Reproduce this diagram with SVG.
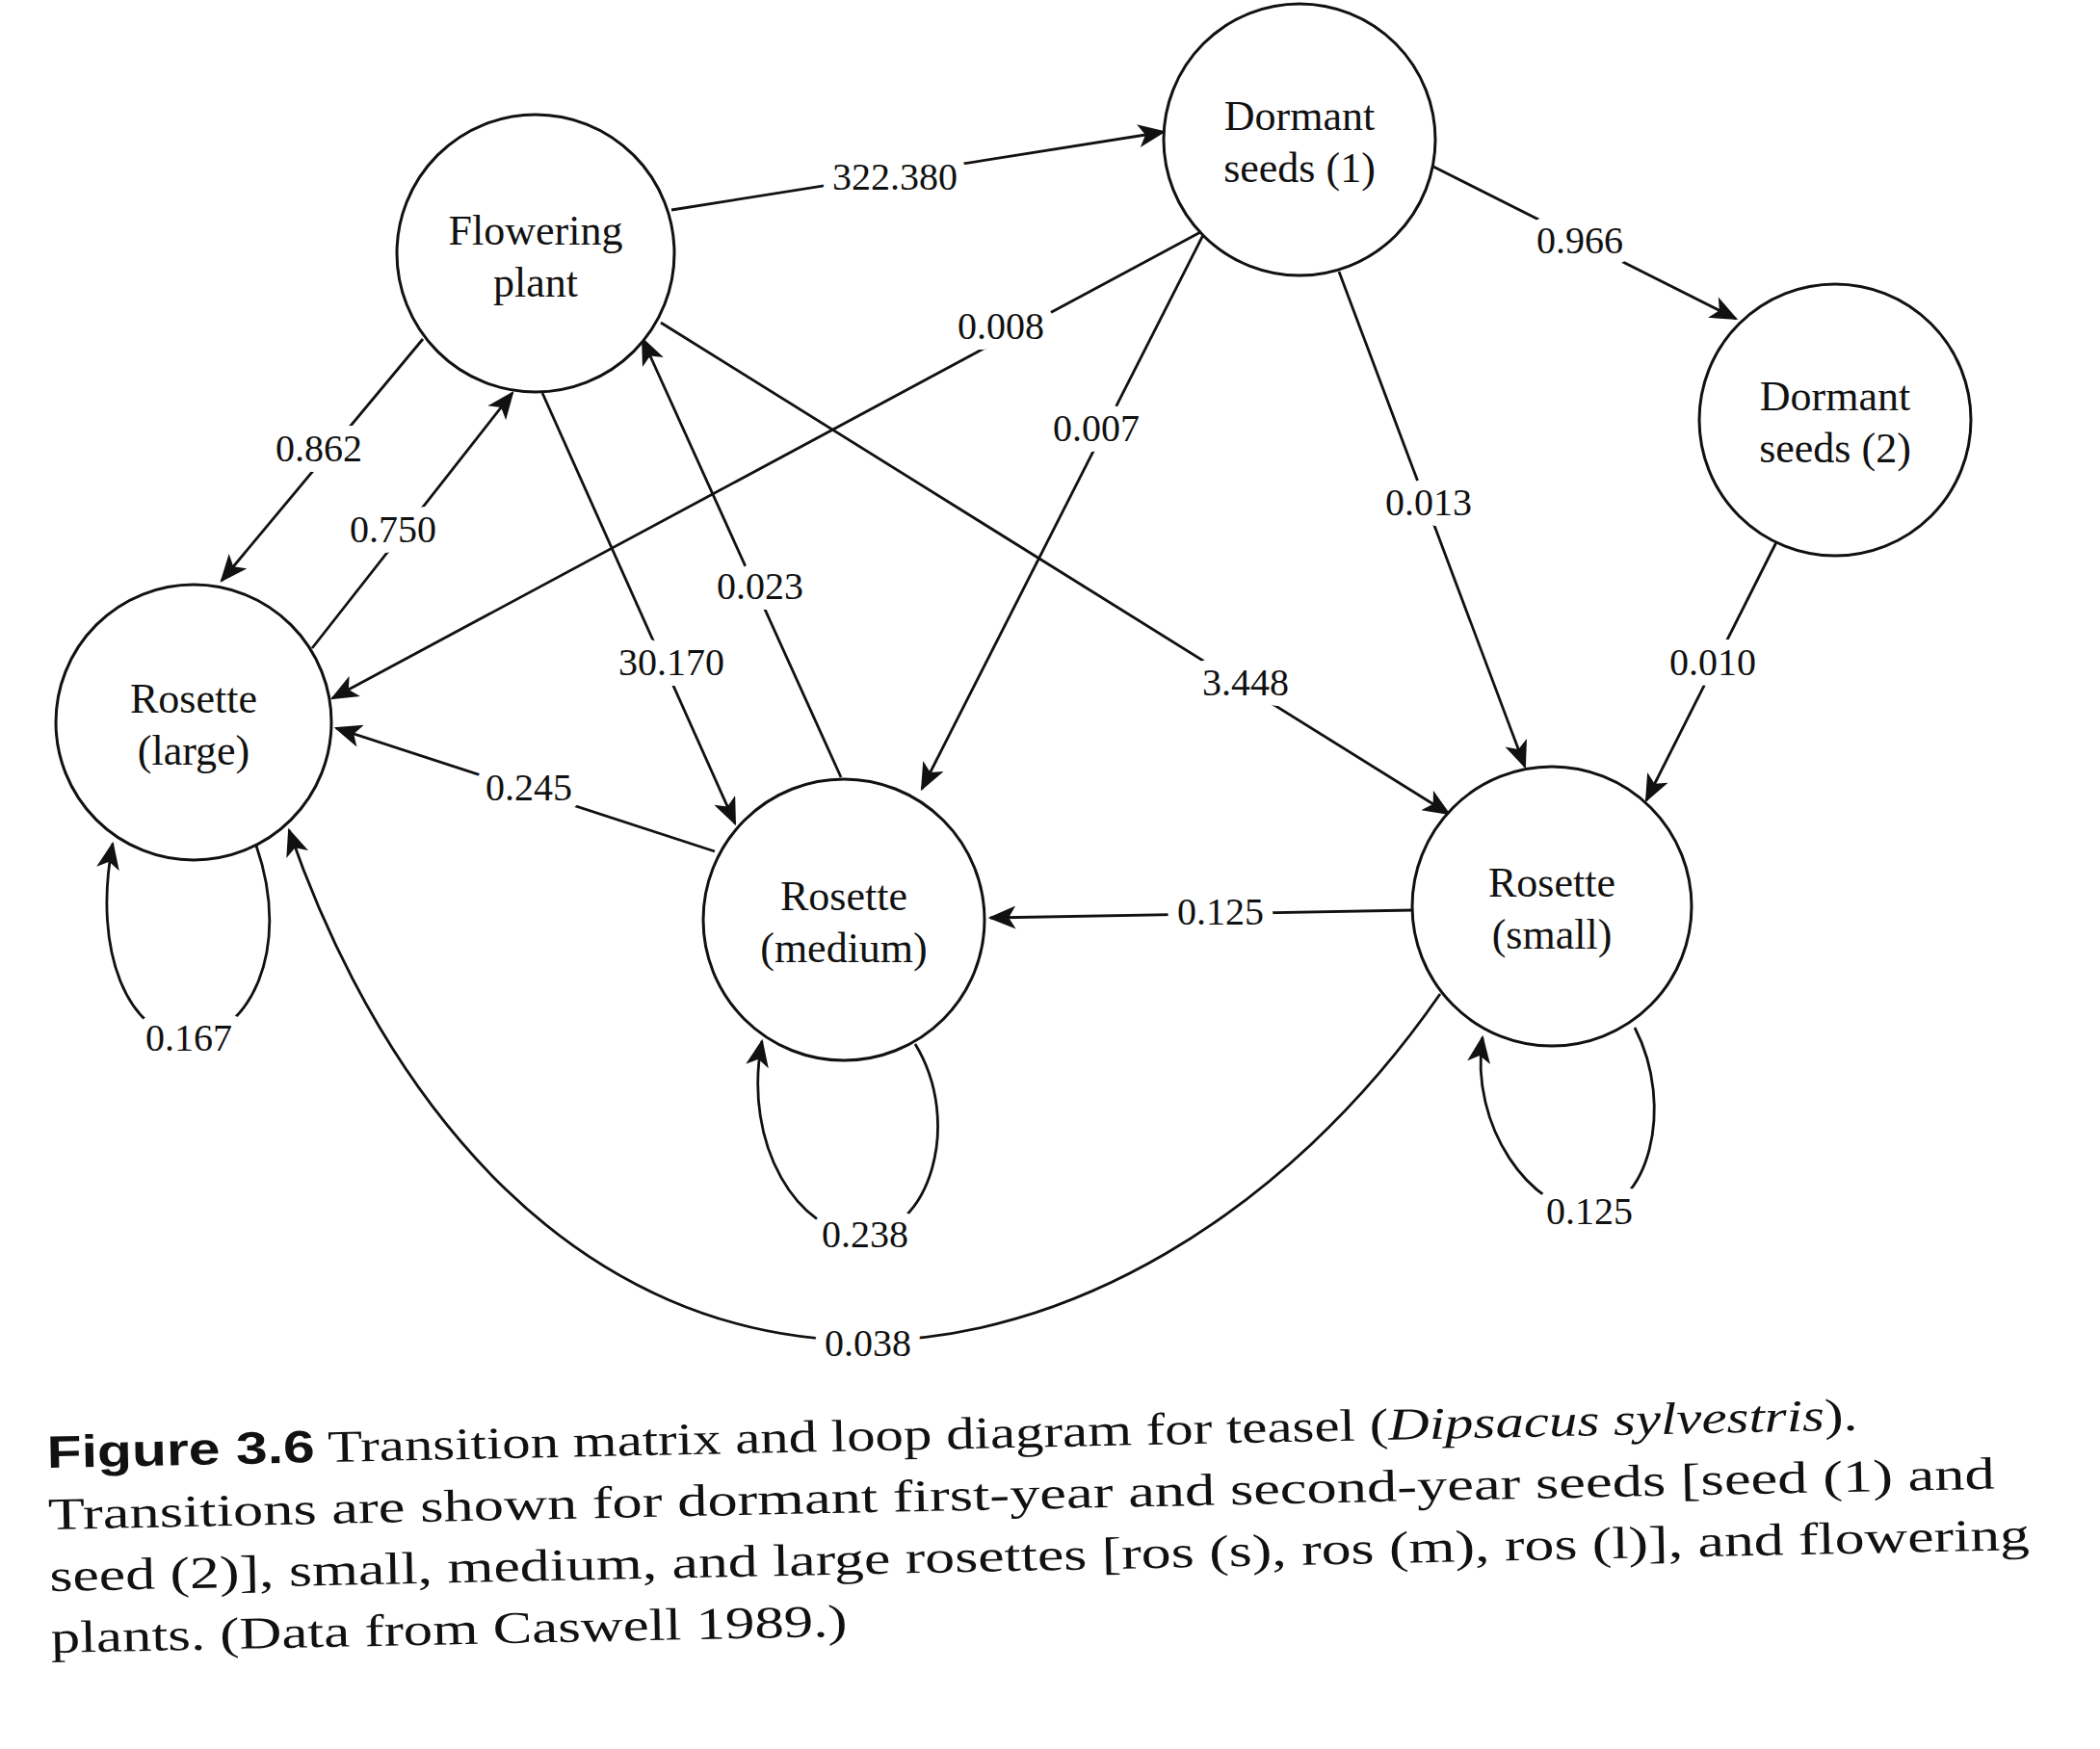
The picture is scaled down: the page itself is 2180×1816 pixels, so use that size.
<svg xmlns="http://www.w3.org/2000/svg" width="2180" height="1816" viewBox="0 0 2180 1816">
<style>
.n circle{fill:#fff;stroke:#111;stroke-width:3}
.n text,.lb{font-family:"Liberation Serif","DejaVu Serif",serif;fill:#111;text-anchor:middle}
.n text{font-size:44px}
.lb{font-size:40px;paint-order:stroke;stroke:#fff;stroke-width:22px;stroke-linejoin:round}
.e{fill:none;stroke:#111;stroke-width:2.8;marker-end:url(#a)}
.cap{font-family:"Liberation Serif","DejaVu Serif",serif;font-size:47px;fill:#111}
</style>
<defs><marker id="a" viewBox="0 0 12 10" refX="11" refY="5" markerWidth="12" markerHeight="10" markerUnits="userSpaceOnUse" orient="auto"><path d="M0,0 L12,5 L0,10 L3,5 Z" fill="#111" transform="scale(1)"/></marker>
<marker id="b" viewBox="0 0 12 10" refX="11" refY="5" markerWidth="30" markerHeight="24" markerUnits="userSpaceOnUse" orient="auto"><path d="M0,0 L12,5 L0,10 L3,5 Z" fill="#111"/></marker></defs>
<rect width="2180" height="1816" fill="#fff"/>
<g id="connectors" style="--m:url(#b)">
<g style="marker-end:url(#b)">
<path class="e" style="marker-end:url(#b)" d="M697,218 L1208,137"/>
<path class="e" style="marker-end:url(#b)" d="M1488,173 L1802,331"/>
<path class="e" style="marker-end:url(#b)" d="M1250,239 L345,725"/>
<path class="e" style="marker-end:url(#b)" d="M1250,242 L957,819"/>
<path class="e" style="marker-end:url(#b)" d="M1390,282 L1583,796"/>
<path class="e" style="marker-end:url(#b)" d="M1844,563 L1709,831"/>
<path class="e" style="marker-end:url(#b)" d="M439,352 L230,603"/>
<path class="e" style="marker-end:url(#b)" d="M324,673 L532,408"/>
<path class="e" style="marker-end:url(#b)" d="M563,408 L763,855"/>
<path class="e" style="marker-end:url(#b)" d="M873,807 L667,352"/>
<path class="e" style="marker-end:url(#b)" d="M686,335 L1504,845"/>
<path class="e" style="marker-end:url(#b)" d="M742,884 L349,756"/>
<path class="e" style="marker-end:url(#b)" d="M1467,945 L1028,953"/>
<path class="e" style="marker-end:url(#b)" d="M1495,1032 C1330,1270 1100,1392 901,1392 C600,1392 400,1150 300,862"/>
<path class="e" style="marker-end:url(#b)" d="M266,878 C305,990 255,1078 196,1078 C135,1078 95,990 117,876"/>
<path class="e" style="marker-end:url(#b)" d="M950,1084 C1000,1165 965,1282 895,1282 C830,1282 770,1190 791,1081"/>
<path class="e" style="marker-end:url(#b)" d="M1697,1067 C1740,1150 1710,1258 1650,1258 C1590,1258 1525,1170 1539,1077"/>
</g>
<text class="lb" x="929" y="197">322.380</text>
<text class="lb" x="1640" y="263">0.966</text>
<text class="lb" x="1039" y="352">0.008</text>
<text class="lb" x="1138" y="458">0.007</text>
<text class="lb" x="1483" y="535">0.013</text>
<text class="lb" x="1778" y="701">0.010</text>
<text class="lb" x="331" y="479">0.862</text>
<text class="lb" x="408" y="563">0.750</text>
<text class="lb" x="697" y="701">30.170</text>
<text class="lb" x="789" y="622">0.023</text>
<text class="lb" x="1293" y="722">3.448</text>
<text class="lb" x="549" y="831">0.245</text>
<text class="lb" x="1267" y="960">0.125</text>
<text class="lb" x="901" y="1408">0.038</text>
<text class="lb" x="196" y="1091">0.167</text>
<text class="lb" x="898" y="1295">0.238</text>
<text class="lb" x="1650" y="1271">0.125</text>
</g>
<g id="flowering" class="n"><circle cx="556" cy="263" r="144"/><text x="556" y="254">Flowering</text><text x="556" y="308">plant</text></g>
<g id="seeds1" class="n"><circle cx="1349" cy="145" r="141"/><text x="1349" y="135">Dormant</text><text x="1349" y="189">seeds (1)</text></g>
<g id="seeds2" class="n"><circle cx="1905" cy="436" r="141"/><text x="1905" y="426">Dormant</text><text x="1905" y="480">seeds (2)</text></g>
<g id="rlarge" class="n"><circle cx="201" cy="750" r="143"/><text x="201" y="740">Rosette</text><text x="201" y="794">(large)</text></g>
<g id="rmedium" class="n"><circle cx="876" cy="955" r="146"/><text x="876" y="945">Rosette</text><text x="876" y="999">(medium)</text></g>
<g id="rsmall" class="n"><circle cx="1611" cy="941" r="145"/><text x="1611" y="931">Rosette</text><text x="1611" y="985">(small)</text></g>
<g id="caption" transform="rotate(-1.2 49 1524)">
<text class="cap" x="49" y="1524" textLength="1880" lengthAdjust="spacingAndGlyphs"><tspan font-family="Liberation Sans,sans-serif" font-weight="bold">Figure 3.6</tspan>  Transition matrix and loop diagram for teasel (<tspan font-style="italic">Dipsacus sylvestris</tspan>).</text>
<text class="cap" x="49" y="1588" textLength="2021" lengthAdjust="spacingAndGlyphs">Transitions are shown for dormant first-year and second-year seeds [seed (1) and</text>
<text class="cap" x="49" y="1652" textLength="2056" lengthAdjust="spacingAndGlyphs">seed (2)], small, medium, and large rosettes [ros (s), ros (m), ros (l)], and flowering</text>
<text class="cap" x="49" y="1716" textLength="827" lengthAdjust="spacingAndGlyphs">plants. (Data from Caswell 1989.)</text>
</g>
</svg>
